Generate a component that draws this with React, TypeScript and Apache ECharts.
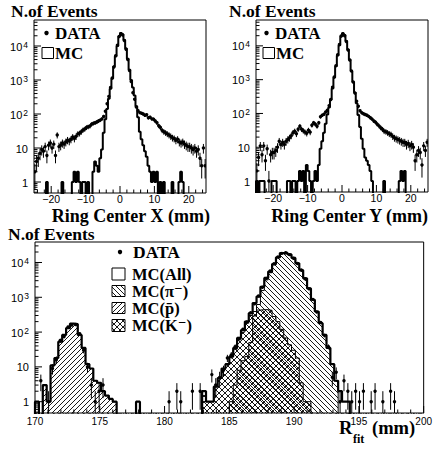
import React, { useEffect, useRef } from "react";
import * as echarts from "echarts";

// ---- binning ----
const TOP_LO = -25;
const TOP_BIN = 0.5;
const BOT_LO = 170;
const BOT_BIN = 0.3;

// ---- Ring Center X (100 bins of 0.5 mm from -25) ----
const X_DATA = [
  2, 4, 5, 7, 9, 8, 11, 6, 12, 14,
  10, 13, 6, 24, 11, 12, 14, 13, 15, 17,
  16, 18, 21, 19, 22, 26, 27, 30, 34, 36,
  40, 42, 44, 50, 53, 55, 58, 62, 66, 72,
  85, 120, 200, 330, 600, 1150, 2400, 5200, 10500, 19000,
  23000, 21000, 14500, 8000, 4000, 1900, 900, 420, 270, 160,
  125, 110, 105, 100, 92, 95, 78, 80, 72, 70,
  62, 55, 45, 40, 33, 30, 28, 26, 24, 22,
  20, 19, 17, 18, 15, 14, 15, 13, 12, 11,
  11, 10, 9, 10, 8, 9, 5, 3, 10, 3,
];
const X_MC = [
  0, 0, 0, 0, 0, 0, 0, 1, 0, 0,
  0, 0, 0, 0, 0, 0, 1, 0, 0, 0,
  0, 0, 1, 2, 1, 2, 1, 0, 1, 1,
  0, 1, 0, 0, 2, 4, 3, 2, 5, 9,
  28, 70, 140, 280, 550, 1100, 2500, 5000, 10000, 19000,
  24000, 22000, 15000, 8500, 4200, 2000, 1000, 600, 350, 170,
  80, 30, 18, 12, 8, 5.5, 3, 2, 1, 2,
  1, 2, 0, 1, 0, 1, 0, 0, 0, 0,
  1, 0, 0, 0, 1, 2, 1, 0, 0, 0,
  0, 0, 0, 0, 0, 0, 0, 0, 0, 0,
];

// ---- Ring Center Y ----
const Y_DATA = [
  2, 5, 11, 6, 11, 4, 9, 1, 6, 7,
  7, 8, 10, 15, 12, 14, 12, 15, 17, 19,
  22, 27, 30, 25, 34, 42, 34, 31, 28, 26,
  32, 28, 45, 53, 48, 42, 53, 80, 88, 95,
  110, 125, 170, 260, 600, 1200, 2600, 5500, 11000, 19500,
  23000, 20000, 13500, 7500, 3800, 1800, 850, 400, 230, 164,
  120, 105, 98, 93, 88, 82, 75, 68, 60, 55,
  48, 43, 38, 34, 30, 29, 27, 25, 24, 21,
  19, 18, 17, 16, 15, 14, 14, 12, 13, 11,
  12, 10, 4, 6, 8, 7, 3, 11, 8, 14,
];
const Y_MC = [
  1, 0, 1, 1, 1, 0, 0, 0, 0, 1,
  1, 1, 0, 0, 0, 0, 0, 0, 1, 1,
  0, 1, 1, 0, 1, 2, 1, 2, 0, 3,
  2, 1, 0, 1, 2, 1, 3, 9, 15, 27,
  50, 93, 150, 260, 550, 1150, 2500, 5200, 10500, 19000,
  23500, 21000, 14000, 7800, 3900, 1800, 850, 420, 200, 90,
  40, 18, 9, 5, 4, 3, 2, 1, 0, 0,
  0, 0, 0, 0, 1, 0, 0, 0, 0, 0,
  0, 0, 0, 1, 2, 1, 2, 0, 0, 0,
  0, 0, 0, 0, 0, 0, 0, 0, 0, 0,
];

// ---- R_fit (100 bins of 0.3 mm from 170) ----
const R_DATA = [
  0, 4, 0, 1, 9, 16, 57, 75, 140, 160,
  165, 90, 30, 10, 3, 1, 2, 3, 0, 0,
  0, 0, 0, 0, 0, 0, 0, 0, 0, 0,
  0, 0, 0, 0, 1, 0, 2, 1, 0, 0,
  2, 0, 2, 0, 0, 6, 3, 5, 8, 18,
  22, 38, 65, 120, 195, 360, 650, 1100, 1950, 3500,
  5700, 9200, 14500, 18300, 19000, 16800, 13200, 9300, 6100, 3400,
  1750, 870, 380, 190, 80, 38, 5, 7, 1, 4,
  2, 1, 2, 1, 2, 0, 1, 2, 0, 1,
  0, 2, 1, 0, 0, 0, 0, 0, 0, 0,
];
const R_MC_ALL = [
  1, 0, 3, 1, 11, 18, 53, 83, 130, 175,
  170, 83, 35, 12, 9, 4, 3.5, 2, 1.5, 1.2,
  1, 0, 0, 0, 0, 0, 1, 0, 0, 0,
  0, 0, 0, 0, 0, 0, 0, 0, 0, 0,
  0, 0, 0, 2, 1, 1, 2.7, 4.8, 9, 12,
  20, 35, 68, 115, 200, 350, 680, 1050, 2000, 3600,
  5500, 9000, 14000, 18600, 18800, 17000, 13500, 9500, 6000, 3500,
  1800, 850, 390, 180, 83, 35, 12, 4, 2, 1,
  1, 0, 0, 0, 0, 0, 0, 0, 0, 0,
  0, 0, 0, 0, 0, 0, 0, 0, 0, 0,
];
const R_MC_PI = [
  0, 0, 0, 0, 0, 0, 0, 0, 0, 0,
  0, 0, 0, 0, 0, 0, 0, 0, 0, 0,
  0, 0, 0, 0, 0, 0, 0, 0, 0, 0,
  0, 0, 0, 0, 0, 0, 0, 0, 0, 0,
  0, 0, 0, 0, 0, 0, 0, 0, 0, 0,
  1, 3, 8, 15, 20, 50, 290, 620, 1560, 3160,
  5080, 8720, 13800, 18200, 18400, 16900, 13450, 9480, 5990, 3500,
  1800, 850, 390, 180, 83, 35, 12, 4, 0, 0,
  0, 0, 0, 0, 0, 0, 0, 0, 0, 0,
  0, 0, 0, 0, 0, 0, 0, 0, 0, 0,
];
const R_MC_PBAR = [
  0, 0, 3, 1, 11, 18, 53, 83, 130, 175,
  170, 83, 35, 12, 9, 4, 3.5, 2, 1.5, 1.2,
  1, 0, 0, 0, 0, 0, 0, 0, 0, 0,
  0, 0, 0, 0, 0, 0, 0, 0, 0, 0,
  0, 0, 0, 0, 0, 0, 0, 0, 0, 0,
  0, 0, 0, 0, 0, 0, 0, 0, 0, 0,
  0, 0, 0, 0, 0, 0, 0, 0, 0, 0,
  0, 0, 0, 0, 0, 0, 0, 0, 0, 0,
  0, 0, 0, 0, 0, 0, 0, 0, 0, 0,
  0, 0, 0, 0, 0, 0, 0, 0, 0, 0,
];
const R_MC_K = [
  0, 0, 0, 0, 0, 0, 0, 0, 0, 0,
  0, 0, 0, 0, 0, 0, 0, 0, 0, 0,
  0, 0, 0, 0, 0, 0, 0, 0, 0, 0,
  0, 0, 0, 0, 0, 0, 0, 0, 0, 0,
  0, 0, 0, 2, 1, 1, 2.7, 4.8, 9, 12,
  19, 32, 60, 100, 180, 300, 390, 430, 440, 440,
  420, 280, 200, 120, 68, 43, 30, 18, 3.5, 1,
  1, 0, 0, 0, 0, 0, 0, 0, 0, 0,
  0, 0, 0, 0, 0, 0, 0, 0, 0, 0,
  0, 0, 0, 0, 0, 0, 0, 0, 0, 0,
];

// ---- axis ticks ----
const TOP_X_MAJOR = [-20, -10, 0, 10, 20];
const TOP_X_MINOR_STEP = 2;
const BOT_X_MAJOR = [170, 175, 180, 185, 190, 195, 200];
const BOT_X_MINOR_STEP = 1;
const Y_DECADES = [1, 10, 100, 1000, 10000];

const TOP_YMIN = 0.475;
const TOP_YMAX = 58200;
const BOT_YMIN = 0.473;
const BOT_YMAX = 38800;

const SERIF = '"Liberation Serif", "Times New Roman", Times, "DejaVu Serif", serif';
const SANS = '"Liberation Sans", Arial, Helvetica, sans-serif';
const FLOOR = 1e-3;

function hatch(kind: "back" | "fwd" | "cross", s: number) {
  const c = document.createElement("canvas");
  c.width = s;
  c.height = s;
  const g = c.getContext("2d")!;
  g.strokeStyle = "#000";
  g.lineWidth = 0.9;
  g.beginPath();
  for (let k = -1; k <= 1; k++) {
    if (kind === "back" || kind === "cross") {
      g.moveTo(k * s, 0);
      g.lineTo(k * s + s, s);
    }
    if (kind === "fwd" || kind === "cross") {
      g.moveTo(k * s, s);
      g.lineTo(k * s + s, 0);
    }
  }
  g.stroke();
  return { image: c, repeat: "repeat", imageWidth: s, imageHeight: s } as any;
}

function histPoints(lo: number, w: number, vals: number[]) {
  const pts: number[][] = [[lo, FLOOR]];
  vals.forEach((v, i) => pts.push([+(lo + i * w).toFixed(4), v > 0 ? v : FLOOR]));
  const n = vals.length;
  const last = vals[n - 1];
  pts.push([+(lo + n * w).toFixed(4), last > 0 ? last : FLOOR]);
  pts.push([+(lo + n * w).toFixed(4), FLOOR]);
  return pts;
}

function dataPoints(lo: number, w: number, vals: number[]) {
  const pts: number[][] = [];
  vals.forEach((v, i) => {
    if (v > 0) pts.push([+(lo + (i + 0.5) * w).toFixed(4), v]);
  });
  return pts;
}

function histSeries(idx: number, lo: number, w: number, vals: number[], lineWidth: number, fill?: any) {
  const s: any = {
    type: "line",
    xAxisIndex: idx,
    yAxisIndex: idx,
    data: histPoints(lo, w, vals),
    step: "end",
    showSymbol: false,
    symbol: "none",
    clip: true,
    silent: true,
    lineStyle: { color: "#000", width: lineWidth },
  };
  if (fill) s.areaStyle = { color: fill, opacity: 1, origin: "start" };
  return s;
}

function dataSeries(idx: number, lo: number, w: number, vals: number[]) {
  return {
    type: "custom",
    xAxisIndex: idx,
    yAxisIndex: idx,
    clip: true,
    silent: true,
    data: dataPoints(lo, w, vals),
    encode: { x: 0, y: 1 },
    renderItem: (params: any, api: any) => {
      const x = api.value(0);
      const v = api.value(1);
      const e = Math.sqrt(v);
      const lo2 = Math.max(v - e, FLOOR);
      const p = api.coord([x, v]);
      const pl = api.coord([x, lo2]);
      const ph = api.coord([x, v + e]);
      return {
        type: "group",
        children: [
          { type: "line", shape: { x1: p[0], y1: pl[1], x2: p[0], y2: ph[1] }, style: { stroke: "#000", lineWidth: 1 } },
          { type: "circle", shape: { cx: p[0], cy: p[1], r: 1.7 }, style: { fill: "#000" } },
        ],
      };
    },
  };
}

function tickSeries(idx: number, xMajor: number[], xStep: number, xmin: number, xmax: number, ymin: number, ymax: number) {
  const items: number[][] = [];
  // x ticks: [x, yRef, len, 0]
  for (let v = xmin; v <= xmax + 1e-9; v += xStep) {
    const vv = +v.toFixed(4);
    const major = xMajor.some((m) => Math.abs(m - vv) < 1e-6);
    items.push([vv, 1, major ? 7 : 3.5, 0]);
  }
  // y ticks: [xRef, y, len, 1]
  for (let d = -1; d <= 4; d++) {
    for (let m = 1; m <= 9; m++) {
      const v = m * Math.pow(10, d);
      if (v <= ymin || v >= ymax) continue;
      const major = Y_DECADES.indexOf(v) >= 0 || (m === 1 && d >= 0);
      items.push([xmin + 1, v, major ? 7 : 3.5, 1]);
    }
  }
  return {
    type: "custom",
    xAxisIndex: idx,
    yAxisIndex: idx,
    silent: true,
    data: items,
    renderItem: (params: any, api: any) => {
      const cs = params.coordSys;
      const p = api.coord([api.value(0), api.value(1)]);
      const len = api.value(2);
      if (api.value(3) === 0) {
        const b = cs.y + cs.height;
        return { type: "line", shape: { x1: p[0], y1: b, x2: p[0], y2: b - len }, style: { stroke: "#000", lineWidth: 1 } };
      }
      return { type: "line", shape: { x1: cs.x, y1: p[1], x2: cs.x + len, y2: p[1] }, style: { stroke: "#000", lineWidth: 1 } };
    },
  };
}

function yLabel(v: number) {
  const k = Math.log10(v);
  const r = Math.round(k);
  if (Math.abs(k - r) > 1e-6) return "";
  if (r === 0) return "{b|1}";
  if (r === 1) return "{b|10}";
  return "{b|10}{s|" + r + "}";
}

const yRich = {
  b: { fontSize: 11, fontFamily: SANS, color: "#000", lineHeight: 12, verticalAlign: "bottom" },
  s: { fontSize: 8.5, fontFamily: SANS, color: "#000", lineHeight: 9, verticalAlign: "top", padding: [0, 0, 7, 1] },
};

function yAxis(idx: number, min: number, max: number) {
  return {
    type: "log",
    logBase: 10,
    gridIndex: idx,
    min,
    max,
    axisLine: { show: false },
    axisTick: { show: false },
    splitLine: { show: false },
    minorTick: { show: false },
    axisLabel: { formatter: yLabel, rich: yRich, margin: 6 },
  };
}

function xAxis(idx: number, min: number, max: number, margin: number, fontSize: number, interval?: number) {
  const a: any = {
    type: "value",
    gridIndex: idx,
    min,
    max,
    axisLine: { show: false },
    axisTick: { show: false },
    splitLine: { show: false },
    axisLabel: {
      margin,
      color: "#000",
      fontSize,
      fontFamily: SANS,
      formatter: (v: number) => {
        if (idx < 2 && Math.abs(v % 10) > 1e-6) return "";
        return v < 0 ? "\u2212" + Math.abs(v) : String(v);
      },
    },
  };
  if (interval) a.interval = interval;
  return a;
}

function text(x: number, y: number, t: string, size: number, align = "left") {
  return {
    type: "text",
    x,
    y,
    silent: true,
    style: { text: t, fill: "#000", font: `bold ${size}px ${SERIF}`, align, verticalAlign: "middle" },
  };
}

function buildOption() {
  const piFill = hatch("back", 5);
  const pbFill = hatch("fwd", 5);
  const kFill = hatch("cross", 6);
  const LEG = 16.5;

  const graphic: any[] = [
    // titles
    text(11, 11, "N.of Events", 17.5),
    text(229, 11, "N.of Events", 17.5),
    text(8, 234, "N.of Events", 17.5),
    text(210, 215.5, "Ring Center X (mm)", 18, "right"),
    text(428, 215.5, "Ring Center Y (mm)", 18, "right"),
    text(339, 427.5, "R", 18.5),
    text(353, 438.5, "fit", 12),
    text(372, 428, "(mm)", 18.5),
    // top-left legend
    { type: "circle", shape: { cx: 46.5, cy: 33, r: 2.2 }, style: { fill: "#000" }, silent: true },
    text(55, 33, "DATA", 17),
    { type: "rect", shape: { x: 42, y: 47.5, width: 11.5, height: 11 }, style: { fill: "#fff", stroke: "#000", lineWidth: 1 }, silent: true },
    text(55, 53, "MC", 17),
    // top-right legend
    { type: "circle", shape: { cx: 266.5, cy: 33, r: 2.2 }, style: { fill: "#000" }, silent: true },
    text(275, 33, "DATA", 17),
    { type: "rect", shape: { x: 263, y: 47.5, width: 11.5, height: 11 }, style: { fill: "#fff", stroke: "#000", lineWidth: 1 }, silent: true },
    text(276, 53, "MC", 17),
    // bottom legend
    { type: "circle", shape: { cx: 120, cy: 252, r: 2.2 }, style: { fill: "#000" }, silent: true },
    text(133, 252, "DATA", 17.5),
    { type: "rect", shape: { x: 112, y: 268, width: 13, height: 12 }, style: { fill: "#fff", stroke: "#000", lineWidth: 1 }, silent: true },
    text(132, 274, "MC(All)", LEG),
    { type: "rect", shape: { x: 112, y: 285.5, width: 13, height: 11 }, style: { fill: piFill, stroke: "#000", lineWidth: 1 }, silent: true },
    text(132, 291.3, "MC(\u03c0\u207b)", LEG),
    { type: "rect", shape: { x: 112, y: 302.5, width: 13, height: 11 }, style: { fill: pbFill, stroke: "#000", lineWidth: 1 }, silent: true },
    text(132, 308.5, "MC(p\u0304)", LEG),
    { type: "rect", shape: { x: 112, y: 319.5, width: 13, height: 12 }, style: { fill: kFill, stroke: "#000", lineWidth: 1 }, silent: true },
    text(132, 325.7, "MC(K\u207b)", LEG),
  ];

  return {
    animation: false,
    backgroundColor: "#fff",
    grid: [
      { left: 34, top: 20, width: 172, height: 173, show: true, borderColor: "#000", borderWidth: 1, backgroundColor: "transparent" },
      { left: 256, top: 20, width: 172, height: 172, show: true, borderColor: "#000", borderWidth: 1, backgroundColor: "transparent" },
      { left: 35, top: 242, width: 393, height: 171, show: true, borderColor: "#000", borderWidth: 1, backgroundColor: "transparent" },
    ],
    xAxis: [xAxis(0, -25, 25, 0, 10.5), xAxis(1, -25, 25, 0, 10.5), xAxis(2, 170, 200, 3, 10, 5)],
    yAxis: [yAxis(0, TOP_YMIN, TOP_YMAX), yAxis(1, TOP_YMIN, TOP_YMAX), yAxis(2, BOT_YMIN, BOT_YMAX)],
    series: [
      histSeries(0, TOP_LO, TOP_BIN, X_MC, 2),
      dataSeries(0, TOP_LO, TOP_BIN, X_DATA),
      histSeries(1, TOP_LO, TOP_BIN, Y_MC, 2),
      dataSeries(1, TOP_LO, TOP_BIN, Y_DATA),
      histSeries(2, BOT_LO, BOT_BIN, R_MC_PI, 1, piFill),
      histSeries(2, BOT_LO, BOT_BIN, R_MC_PBAR, 1, pbFill),
      histSeries(2, BOT_LO, BOT_BIN, R_MC_K, 1, kFill),
      histSeries(2, BOT_LO, BOT_BIN, R_MC_ALL, 2.2),
      dataSeries(2, BOT_LO, BOT_BIN, R_DATA),
      tickSeries(0, TOP_X_MAJOR, TOP_X_MINOR_STEP, -24, 24, TOP_YMIN, TOP_YMAX),
      tickSeries(1, TOP_X_MAJOR, TOP_X_MINOR_STEP, -24, 24, TOP_YMIN, TOP_YMAX),
      tickSeries(2, BOT_X_MAJOR, BOT_X_MINOR_STEP, 170, 200, BOT_YMIN, BOT_YMAX),
    ],
    graphic,
  };
}

export default function App() {
  const ref = useRef<HTMLDivElement>(null);
  useEffect(() => {
    const chart = echarts.init(ref.current!, null, { renderer: "svg" });
    chart.setOption(buildOption() as any);
    return () => chart.dispose();
  }, []);
  return (
    <div
      ref={ref}
      style={{ position: "absolute", left: 0, top: 0, width: 435, height: 450, background: "#fff" }}
    />
  );
}
